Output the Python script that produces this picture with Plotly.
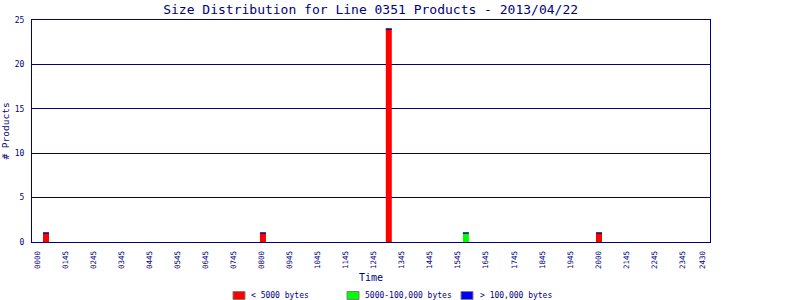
import plotly.graph_objects as go

# Data (x in hours along the time axis)
tick_pos = list(range(24)) + [23.73]
tick_labels = ["0000", "0145", "0245", "0345", "0445", "0545", "0645", "0745",
               "0800", "0945", "1045", "1145", "1245", "1345", "1445", "1545",
               "1645", "1745", "1845", "1945", "2000", "2145", "2245", "2345", "2430"]

series_names = ["< 5000 bytes", "5000-100,000 bytes", "> 100,000 bytes"]
series_colors = ["#FF0000", "#00FF00", "#0000FF"]
small_x = [0.30, 8.04, 12.53, 20.03]
small_y = [1, 1, 24, 1]
medium_x = [15.28]
medium_y = [1]
large_x = []
large_y = []

NAVY = "#000080"
FONT = "DejaVu Sans Mono"
BAR_W = 0.214

L, R, T, B = 32, 90, 20, 58
W, H = 800, 300
PW, PH = W - L - R, H - T - B

fig = go.Figure()

for name, xs, ys, color in zip(series_names, [small_x, medium_x, large_x],
                               [small_y, medium_y, large_y], series_colors):
    fig.add_trace(go.Bar(
        x=xs, y=ys, name=name, width=BAR_W,
        marker=dict(color=color, line=dict(width=0)),
        error_y=dict(type="data", array=[0] * len(ys), color=NAVY,
                     thickness=1.5, width=3),
        showlegend=False,
    ))

# Legend drawn below the chart
def px_x(p):
    return (p - L) / PW

def px_y(p):
    return (H - B - p) / PH

legend_box_left = [233, 347, 461]
legend_text_left = [249, 362.5, 477.5]
shapes = []
annotations = []
for name, color, bx, tx in zip(series_names, series_colors, legend_box_left, legend_text_left):
    shapes.append(dict(type="rect", xref="paper", yref="paper",
                       x0=px_x(bx), x1=px_x(bx + 12), y0=px_y(299.5), y1=px_y(291.5),
                       fillcolor=color, line=dict(color="#808080", width=1)))
    annotations.append(dict(text=name, xref="paper", yref="paper", x=px_x(tx), y=px_y(295.5),
                            xanchor="left", yanchor="middle", showarrow=False,
                            font=dict(size=8, family=FONT, color=NAVY)))

fig.update_layout(
    width=W, height=H,
    margin=dict(l=L, r=R, t=T, b=B),
    paper_bgcolor="white", plot_bgcolor="white",
    barmode="overlay",
    font=dict(family=FONT, color=NAVY, size=8),
    title=dict(text="Size Distribution for Line 0351 Products - 2013/04/22",
               x=0.4633, xanchor="center", y=0.97, yanchor="middle",
               font=dict(size=13, family=FONT, color=NAVY)),
    showlegend=False,
    shapes=shapes,
    annotations=annotations,
    xaxis=dict(
        range=[-0.2, 23.99], tickmode="array", tickvals=tick_pos, ticktext=tick_labels,
        tickangle=-90, showgrid=False, zeroline=False, automargin=False,
        showline=True, linecolor=NAVY, linewidth=1, mirror=True,
        ticks="", ticklabelstandoff=5,
        tickfont=dict(size=7.5, family=FONT, color=NAVY),
        title=dict(text="Time", standoff=5, font=dict(size=10, family=FONT, color=NAVY)),
    ),
    yaxis=dict(
        range=[0, 25], tickvals=[0, 5, 10, 15, 20, 25],
        showgrid=True, gridcolor=NAVY, gridwidth=1, zeroline=False, automargin=False,
        showline=True, linecolor=NAVY, linewidth=1, mirror=True,
        ticks="", ticklabelstandoff=5,
        tickfont=dict(size=8, family=FONT, color=NAVY),
        title=dict(text="# Products", standoff=4, font=dict(size=9.5, family=FONT, color=NAVY)),
    ),
)

fig.write_html("out.html")
